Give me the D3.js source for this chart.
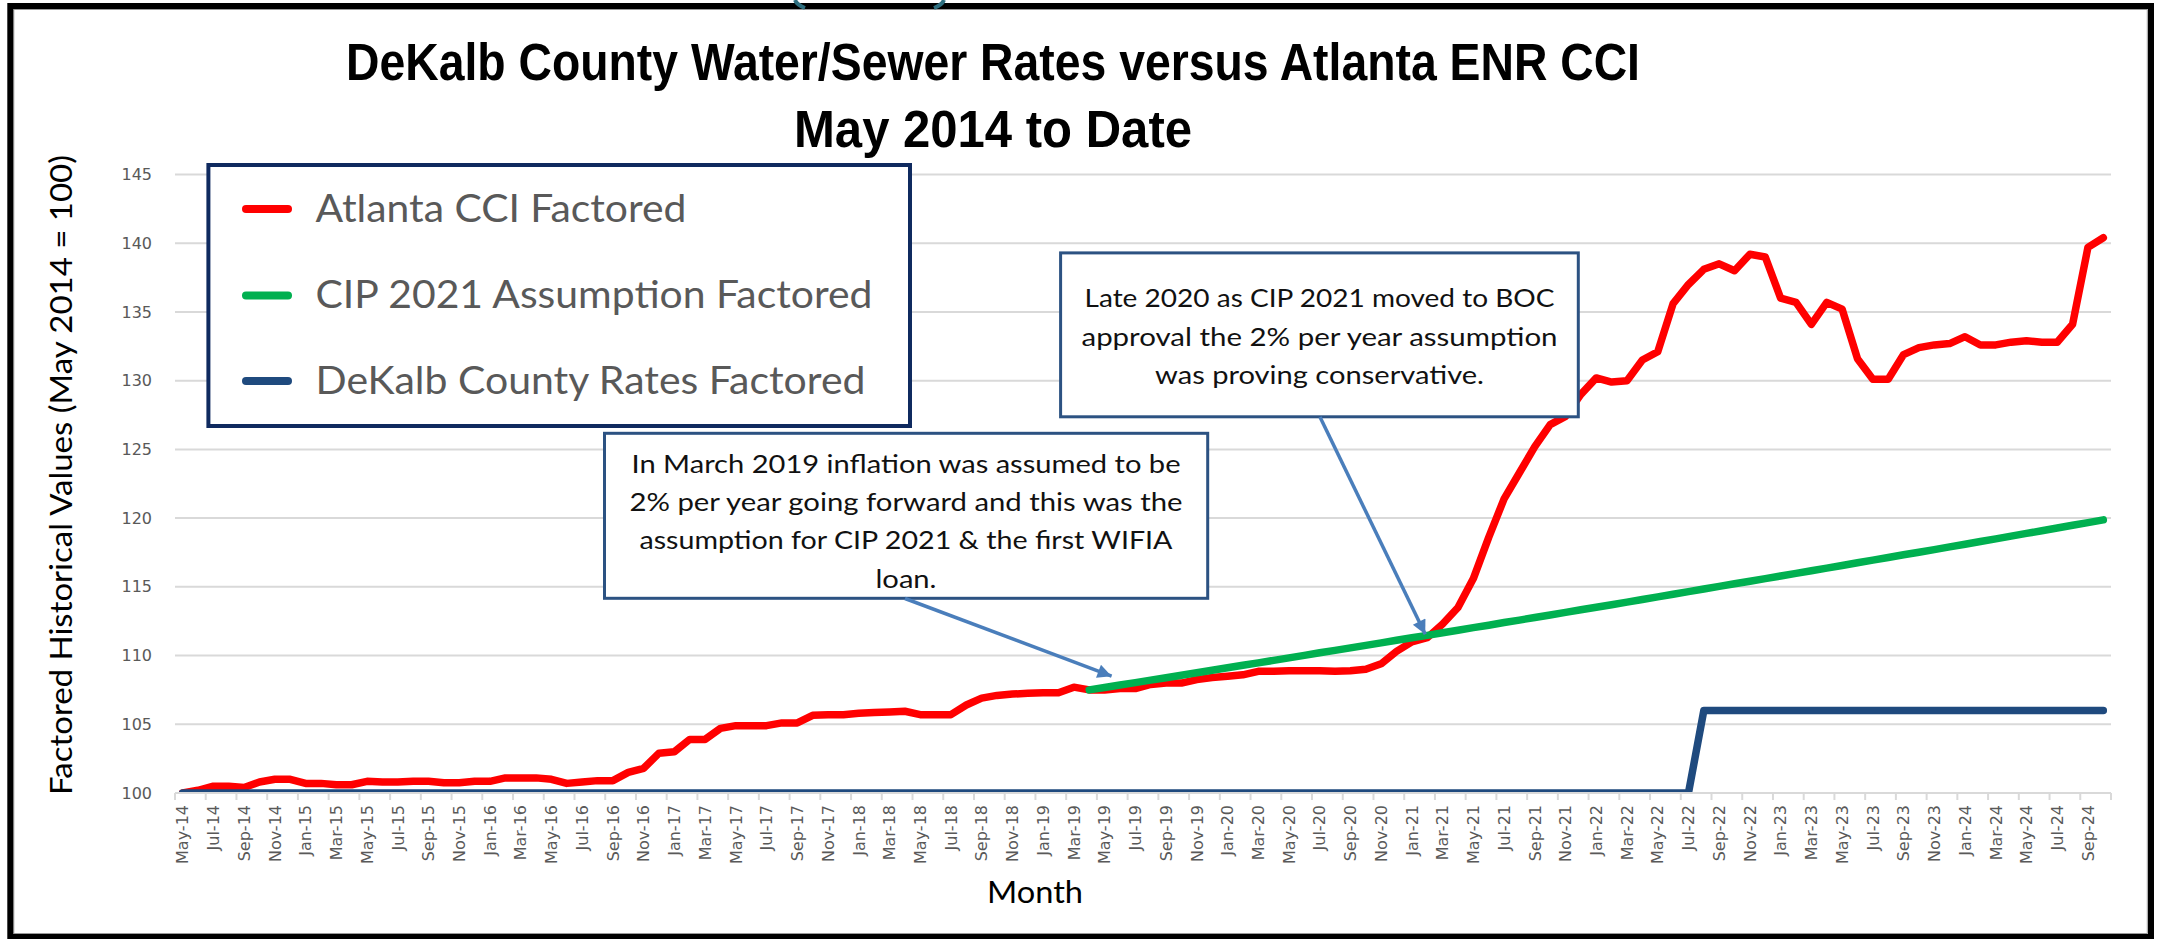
<!DOCTYPE html>
<html><head><meta charset="utf-8">
<script src="https://cdn.jsdelivr.net/npm/d3@7"></script>
<style>
html,body{margin:0;padding:0;background:#fff;}
svg{display:block;}
</style></head><body>
<svg id="chart" width="2158" height="939"></svg>
<script>
// ---------------- DATA ----------------
const months = [
 "May-14","Jun-14","Jul-14","Aug-14","Sep-14","Oct-14","Nov-14","Dec-14",
 "Jan-15","Feb-15","Mar-15","Apr-15","May-15","Jun-15","Jul-15","Aug-15","Sep-15","Oct-15","Nov-15","Dec-15",
 "Jan-16","Feb-16","Mar-16","Apr-16","May-16","Jun-16","Jul-16","Aug-16","Sep-16","Oct-16","Nov-16","Dec-16",
 "Jan-17","Feb-17","Mar-17","Apr-17","May-17","Jun-17","Jul-17","Aug-17","Sep-17","Oct-17","Nov-17","Dec-17",
 "Jan-18","Feb-18","Mar-18","Apr-18","May-18","Jun-18","Jul-18","Aug-18","Sep-18","Oct-18","Nov-18","Dec-18",
 "Jan-19","Feb-19","Mar-19","Apr-19","May-19","Jun-19","Jul-19","Aug-19","Sep-19","Oct-19","Nov-19","Dec-19",
 "Jan-20","Feb-20","Mar-20","Apr-20","May-20","Jun-20","Jul-20","Aug-20","Sep-20","Oct-20","Nov-20","Dec-20",
 "Jan-21","Feb-21","Mar-21","Apr-21","May-21","Jun-21","Jul-21","Aug-21","Sep-21","Oct-21","Nov-21","Dec-21",
 "Jan-22","Feb-22","Mar-22","Apr-22","May-22","Jun-22","Jul-22","Aug-22","Sep-22","Oct-22","Nov-22","Dec-22",
 "Jan-23","Feb-23","Mar-23","Apr-23","May-23","Jun-23","Jul-23","Aug-23","Sep-23","Oct-23","Nov-23","Dec-23",
 "Jan-24","Feb-24","Mar-24","Apr-24","May-24","Jun-24","Jul-24","Aug-24","Sep-24","Oct-24"
];
const atlantaCCI = [
 100.0,100.2,100.5,100.5,100.4,100.8,101.0,101.0,
 100.7,100.7,100.6,100.6,100.85,100.8,100.8,100.85,100.85,100.75,100.75,100.85,
 100.85,101.1,101.1,101.1,101.0,100.7,100.8,100.9,100.9,101.5,101.8,102.9,
 103.0,103.9,103.9,104.7,104.9,104.9,104.9,105.1,105.1,105.65,105.7,105.7,
 105.8,105.85,105.9,105.95,105.7,105.7,105.7,106.4,106.9,107.1,107.2,107.25,
 107.3,107.3,107.7,107.5,107.5,107.6,107.6,107.9,108.0,108.0,108.25,108.4,
 108.5,108.6,108.85,108.85,108.9,108.9,108.9,108.85,108.9,109.0,109.4,110.3,
 111.0,111.3,112.3,113.5,115.6,118.6,121.4,123.3,125.2,126.8,127.4,129.0,
 130.2,129.9,130.0,131.5,132.1,135.6,137.0,138.1,138.5,138.0,139.2,139.0,
 136.0,135.7,134.1,135.7,135.2,131.6,130.1,130.1,131.9,132.4,132.6,132.7,
 133.2,132.6,132.6,132.8,132.9,132.8,132.8,134.1,139.7,140.4
];
const cipStartMonth = "Apr-19";
const cipAssumption = [
 107.50,107.68,107.86,108.03,108.21,108.39,108.57,
 108.75,108.93,109.11,109.29,109.47,109.65,
 109.83,110.01,110.20,110.38,110.56,110.74,
 110.92,111.11,111.29,111.47,111.66,111.84,
 112.03,112.21,112.40,112.58,112.77,112.95,
 113.14,113.33,113.51,113.70,113.89,114.08,
 114.27,114.46,114.65,114.84,115.03,115.22,
 115.41,115.60,115.79,115.98,116.17,116.36,
 116.55,116.75,116.94,117.13,117.33,117.52,
 117.71,117.91,118.10,118.30,118.49,118.69,
 118.89,119.08,119.28,119.48,119.67,119.87
];
const dekalbRates = [
 100,100,100,100,100,100,100,100,
 100,100,100,100,100,100,100,100,100,100,100,100,
 100,100,100,100,100,100,100,100,100,100,100,100,
 100,100,100,100,100,100,100,100,100,100,100,100,
 100,100,100,100,100,100,100,100,100,100,100,100,
 100,100,100,100,100,100,100,100,100,100,100,100,
 100,100,100,100,100,100,100,100,100,100,100,100,
 100,100,100,100,100,100,100,100,100,100,100,100,
 100,100,100,100,100,100,100,106,106,106,106,106,
 106,106,106,106,106,106,106,106,106,106,106,106,
 106,106,106,106,106,106,106,106,106,106
];
const yTicks = [100,105,110,115,120,125,130,135,140,145];
const xTickLabels = months.filter((d,i) => i % 2 === 0);
const seriesNames = ["Atlanta CCI Factored","CIP 2021 Assumption Factored","DeKalb County Rates Factored"];
const seriesColors = ["#ff0000","#00b050","#1f4a7e"];
const titleLines = ["DeKalb County Water/Sewer Rates versus Atlanta ENR CCI","May 2014 to Date"];
const note1Lines = ["In March 2019 inflation was assumed to be","2% per year going forward and this was the","assumption for CIP 2021 & the first WIFIA","loan."];
const note2Lines = ["Late 2020 as CIP 2021 moved to BOC","approval the 2% per year assumption","was proving conservative."];
const yAxisTitle = "Factored Historical Values (May 2014 = 100)";
const xAxisTitle = "Month";

// ---------------- BUILD ----------------
const svg = d3.select("#chart");
const W = 2158, H = 939;
const plot = {left:175, right:2111, top:174.5, bottom:793};
const bodyFont = "Lato, 'Liberation Sans', Arial, sans-serif";
const tickFont = "'DejaVu Sans', Verdana, sans-serif";

function fit(sel, len){ sel.attr("textLength", len).attr("lengthAdjust","spacingAndGlyphs"); }

svg.append("rect").attr("width",W).attr("height",H).attr("fill","#fff");

const x = d3.scaleBand().domain(months).range([plot.left, plot.right]).paddingInner(0).paddingOuter(0);
const y = d3.scaleLinear().domain([100,145]).range([plot.bottom, plot.top]);
const cx = m => x(m) + x.bandwidth()/2;

// gridlines
svg.append("g").selectAll("line").data(yTicks.filter(t => t > 100)).join("line")
  .attr("x1",plot.left).attr("x2",plot.right)
  .attr("y1",d=>y(d)).attr("y2",d=>y(d))
  .attr("stroke","#d9d9d9").attr("stroke-width",2);

// series data
const cipStartIdx = months.indexOf(cipStartMonth);
const cipFull = months.map((m,i) => (i >= cipStartIdx && i - cipStartIdx < cipAssumption.length) ? cipAssumption[i - cipStartIdx] : null);
const series = [atlantaCCI, cipFull, dekalbRates];

svg.append("clipPath").attr("id","plotclip").append("rect")
  .attr("x",plot.left).attr("y",0).attr("width",plot.right-plot.left).attr("height",plot.bottom);

const line = d3.line().defined(d => d != null).x((d,i) => cx(months[i])).y(d => y(d));
const gLines = svg.append("g").attr("clip-path","url(#plotclip)");
series.forEach((s,k) => {
  gLines.append("path").datum(s).attr("d", line)
    .attr("fill","none").attr("stroke",seriesColors[k]).attr("stroke-width",7.5)
    .attr("stroke-linejoin","round").attr("stroke-linecap","round");
});

// x axis line and ticks
svg.append("line").attr("x1",plot.left).attr("x2",plot.right).attr("y1",plot.bottom).attr("y2",plot.bottom)
  .attr("stroke","#d9d9d9").attr("stroke-width",2);
const tickEdges = xTickLabels.map(m => x(m)).concat([plot.right]);
svg.append("g").selectAll("line").data(tickEdges).join("line")
  .attr("x1",d=>d).attr("x2",d=>d).attr("y1",plot.bottom).attr("y2",plot.bottom+7)
  .attr("stroke","#d9d9d9").attr("stroke-width",2);

const xAxis = svg.append("g").attr("transform",`translate(0,${plot.bottom})`)
  .call(d3.axisBottom(x).tickValues(xTickLabels).tickSize(0));
xAxis.select(".domain").remove();
xAxis.selectAll("text")
  .attr("transform","rotate(-90)").attr("x",-12).attr("y",0).attr("dy","0.36em")
  .style("text-anchor","end").style("font-family",tickFont).style("font-size","16px").attr("fill","#595959");

// y axis labels
const yAxis = svg.append("g").attr("transform",`translate(${plot.left},0)`)
  .call(d3.axisLeft(y).tickValues(yTicks).tickSize(0).tickPadding(23));
yAxis.select(".domain").remove();
yAxis.selectAll("text").style("font-family",tickFont).style("font-size","16px").attr("fill","#595959");

// axis titles
svg.append("text").attr("transform","translate(72,475) rotate(-90)")
  .attr("text-anchor","middle").style("font-family",bodyFont).style("font-size","30px").attr("fill","#000")
  .text(yAxisTitle).call(fit, 640);
svg.append("text").attr("x",1035).attr("y",903.3)
  .attr("text-anchor","middle").style("font-family",bodyFont).style("font-size","30px").attr("fill","#000")
  .text(xAxisTitle).call(fit, 96);

// title
const titleFont = "'Liberation Sans Narrow','Arial Narrow','Liberation Sans',Arial,sans-serif";
const titleY = [80, 147], titleW = [1294, 398];
titleLines.forEach((t,i) => {
  svg.append("text").attr("x",993).attr("y",titleY[i]).attr("text-anchor","middle")
    .style("font-family",titleFont).style("font-weight","bold").style("font-size","51px").attr("fill","#000")
    .text(t).call(fit, titleW[i]);
});

// legend
svg.append("rect").attr("x",208.4).attr("y",165).attr("width",701.6).attr("height",261)
  .attr("fill","#fff").attr("stroke","#0f2a5f").attr("stroke-width",4);
const legY = [209, 295.5, 381], legBase = [221.7, 308, 394], legW = [371, 557, 550];
seriesNames.forEach((n,k) => {
  svg.append("line").attr("x1",246).attr("x2",288).attr("y1",legY[k]).attr("y2",legY[k])
    .attr("stroke",seriesColors[k]).attr("stroke-width",8).attr("stroke-linecap","round");
  svg.append("text").attr("x",315.5).attr("y",legBase[k])
    .style("font-family",bodyFont).style("font-size","39.5px").attr("fill","#595959")
    .text(n).call(fit, legW[k]);
});

// annotation boxes
function note(box, lines, cxp, bases, widths){
  svg.append("rect").attr("x",box[0]).attr("y",box[1]).attr("width",box[2]).attr("height",box[3])
    .attr("fill","#fff").attr("stroke","#2c5282").attr("stroke-width",3);
  lines.forEach((t,i) => {
    svg.append("text").attr("x",cxp).attr("y",bases[i]).attr("text-anchor","middle")
      .style("font-family",bodyFont).style("font-size","25.5px").attr("fill","#111")
      .text(t).call(fit, widths[i]);
  });
}
note([604.5,433.3,603.2,165], note1Lines, 906, [473.3,511,548.6,588.3], [549,553,533,61]);
note([1060.6,252.9,517.7,163.9], note2Lines, 1319.5, [307,345.6,384], [470,476,329]);

// arrows
const defs = svg.append("defs");
defs.append("marker").attr("id","ahead").attr("viewBox","0 0 10 10").attr("refX",10).attr("refY",5)
  .attr("markerUnits","userSpaceOnUse").attr("markerWidth",17).attr("markerHeight",14).attr("orient","auto")
  .append("path").attr("d","M0,0 L10,5 L0,10 Z").attr("fill","#4a7ebb");
const arrows = [
  {from:[905,598.5], to:[cx("May-19")+7, y(108.5)]},
  {from:[1320,417], to:[cx("Feb-21")-2, y(111.55)]}
];
arrows.forEach(a => {
  svg.append("line").attr("x1",a.from[0]).attr("y1",a.from[1]).attr("x2",a.to[0]).attr("y2",a.to[1])
    .attr("stroke","#4a7ebb").attr("stroke-width",3.5).attr("marker-end","url(#ahead)");
});

// frame
svg.append("rect").attr("x",13.8).attr("y",9.5).attr("width",2133.5).attr("height",924)
  .attr("fill","none").attr("stroke","#9a9a9a").attr("stroke-width",1);
svg.append("rect").attr("x",10.3).attr("y",6).attr("width",2140.7).attr("height",931)
  .attr("fill","none").attr("stroke","#000").attr("stroke-width",6);
// cut-off teal parentheses from content above
svg.append("path").attr("d","M795,0 Q797,5 805,8").attr("fill","none").attr("stroke","#2e6f80").attr("stroke-width",4);
svg.append("path").attr("d","M944,0 Q942,5 934,8").attr("fill","none").attr("stroke","#2e6f80").attr("stroke-width",4);
</script>
</body></html>
